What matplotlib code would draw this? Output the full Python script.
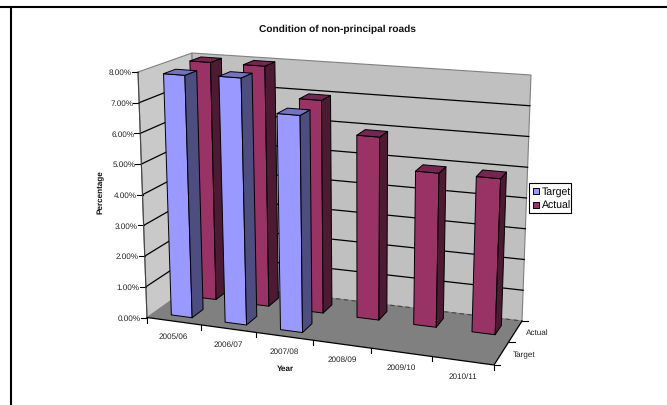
import numpy as np
import matplotlib
matplotlib.use('Agg')
import matplotlib.pyplot as plt
from matplotlib.patches import Rectangle

plt.rcParams['font.family'] = ['Liberation Sans', 'DejaVu Sans']
plt.rcParams['text.hinting'] = 'no_hinting'

years = ['2005/06', '2006/07', '2007/08', '2008/09', '2009/10', '2010/11']
target = [7.9, 7.95, 6.9, np.nan, np.nan, np.nan]
actual = [8.0, 8.0, 7.0, 5.95, 4.95, 4.95]
y_ticks = [0, 1, 2, 3, 4, 5, 6, 7, 8]

# corners of the chart box, front-left, front-right, back-right, back-left
floor_quad = [(147, 318.5), (494, 366), (522, 322), (197, 283)]
top_quad = [(138, 73), (506, 101), (531, 76), (192, 54)]

def homography(quad):
    src = [(0, 0), (1, 0), (1, 1), (0, 1)]
    A, b = [], []
    for (u, v), (x, y) in zip(src, quad):
        A.append([u, v, 1, 0, 0, 0, -u*x, -v*x])
        A.append([0, 0, 0, u, v, 1, -u*y, -v*y])
        b += [x, y]
    h = np.linalg.solve(np.array(A, float), np.array(b, float))
    return np.append(h, 1).reshape(3, 3)

H_floor = homography(floor_quad)
H_top = homography(top_quad)

def apply(H, u, v):
    p = H @ np.array([u, v, 1.0])
    return p[:2] / p[2]

def proj(cat, depth, val):
    # cat in category units, depth 0-1 front to back, val in percent
    u = cat / len(years)
    u = u + 0.044 * u * (1 - u)  # evens out the foreshortening along the year axis
    a = apply(H_floor, u, depth)
    b = apply(H_top, u, depth)
    return tuple(a + (b - a) * val / 8.0)

fig = plt.figure(figsize=(6.67, 4.06), dpi=100)
ax = fig.add_axes([0, 0, 1, 1])
ax.set_xlim(0, 667)
ax.set_ylim(406, 0)
ax.axis('off')

n = len(years)
# walls and floor
ax.fill(*zip(proj(0, 0, 0), proj(0, 1, 0), proj(0, 1, 8), proj(0, 0, 8)), fc='#c9c9c9', ec='#808080', lw=0.8, zorder=1)
ax.fill(*zip(proj(0, 1, 0), proj(n, 1, 0), proj(n, 1, 8), proj(0, 1, 8)), fc='#c0c0c0', ec='#808080', lw=0.8, zorder=1)
ax.fill(*zip(proj(0, 0, 0), proj(n, 0, 0), proj(n, 1, 0), proj(0, 1, 0)), fc='#808080', ec='none', zorder=2)
ax.plot(*zip(proj(0, 1, 0), proj(n, 1, 0)), color='#444444', lw=0.8, ls=(0, (4, 3)), zorder=2)

# gridlines and value axis, the top edge of the box stays grey
for t in y_ticks:
    p0, p1, p2 = proj(0, 0, t), proj(0, 1, t), proj(n, 1, t)
    if 0 < t < 8:
        ax.plot([p0[0], p1[0], p2[0]], [p0[1], p1[1], p2[1]], color='black', lw=0.9, zorder=2)
    ax.plot([p0[0] - 6, p0[0]], [p0[1], p0[1]], color='black', lw=0.8, zorder=3)
    ax.text(p0[0] - 6, p0[1], f'{t:.2f}%', ha='right', va='center', fontsize=5.9, color='#222222')
ax.plot(*zip(proj(0, 0, 0), proj(0, 0, 8)), color='#444444', lw=0.8, zorder=3)

# floor edges with ticks
ax.plot(*zip(proj(0, 0, 0), proj(n, 0, 0), proj(n, 1, 0)), color='black', lw=0.9, zorder=3)
for i in range(n + 1):
    p = proj(i, 0, 0)
    ax.plot([p[0], p[0]], [p[1], p[1] + 5], color='black', lw=0.8, zorder=3)
for i, lab in enumerate(years):
    p = proj(i + 0.5, 0, 0)
    ax.text(p[0], p[1] + 15, lab, ha='center', va='center', fontsize=5.9, color='#222222')
for d in [0, 0.5, 1]:
    p = proj(n, d, 0)
    ax.plot([p[0], p[0] + 6], [p[1], p[1]], color='black', lw=0.8, zorder=3)
ax.text(535, 355, 'Target', ha='right', va='center', fontsize=5.9, color='#222222')
ax.text(549, 332.5, 'Actual', ha='right', va='center', fontsize=5.9, color='#222222')

def bar(cat, d0, d1, val, front, side, top, z):
    if np.isnan(val):
        return
    u0, u1 = cat + 0.33, cat + 0.72
    kw = dict(ec='black', lw=0.7, zorder=z, joinstyle='round')
    ax.fill(*zip(proj(u0, d0, 0), proj(u1, d0, 0), proj(u1, d0, val), proj(u0, d0, val)), fc=front, **kw)
    ax.fill(*zip(proj(u1, d0, 0), proj(u1, d1, 0), proj(u1, d1, val), proj(u1, d0, val)), fc=side, **kw)
    ax.fill(*zip(proj(u0, d0, val), proj(u1, d0, val), proj(u1, d1, val), proj(u0, d1, val)), fc=top, **kw)

# back row first so the front row overlaps it
for i, v in enumerate(actual):
    bar(i, 0.62, 0.84, v, '#993366', '#4d1a33', '#732650', 4 + i * 0.01)
for i, v in enumerate(target):
    bar(i, 0.13, 0.35, v, '#9999ff', '#4d4d80', '#7373bf', 5 + i * 0.01)

ax.text(337, 29, 'Condition of non-principal roads', ha='center', va='center', fontsize=7.3, fontweight='bold', color='#111111')
ax.text(285, 369, 'Year', ha='center', va='center', fontsize=5.9, fontweight='bold', color='#111111')
ax.text(101, 192, 'Percentage', ha='center', va='center', rotation=90, fontsize=5.9, fontweight='bold', color='#111111')

# legend
ax.add_patch(Rectangle((529, 184), 42, 30, fc='white', ec='black', lw=0.8, zorder=6))
ax.add_patch(Rectangle((533, 189), 6, 6, fc='#9999ff', ec='black', lw=0.7, zorder=7))
ax.add_patch(Rectangle((533, 203), 6, 6, fc='#993366', ec='black', lw=0.7, zorder=7))
ax.text(541.5, 192, 'Target', ha='left', va='center', fontsize=7.6, zorder=7)
ax.text(541.5, 206, 'Actual', ha='left', va='center', fontsize=7.6, zorder=7)

# page rules
ax.plot([0, 667], [8, 8], color='black', lw=1.5, zorder=8)
ax.plot([11, 11], [8, 406], color='black', lw=1.5, zorder=8)

fig.savefig('out.png', dpi=100)
